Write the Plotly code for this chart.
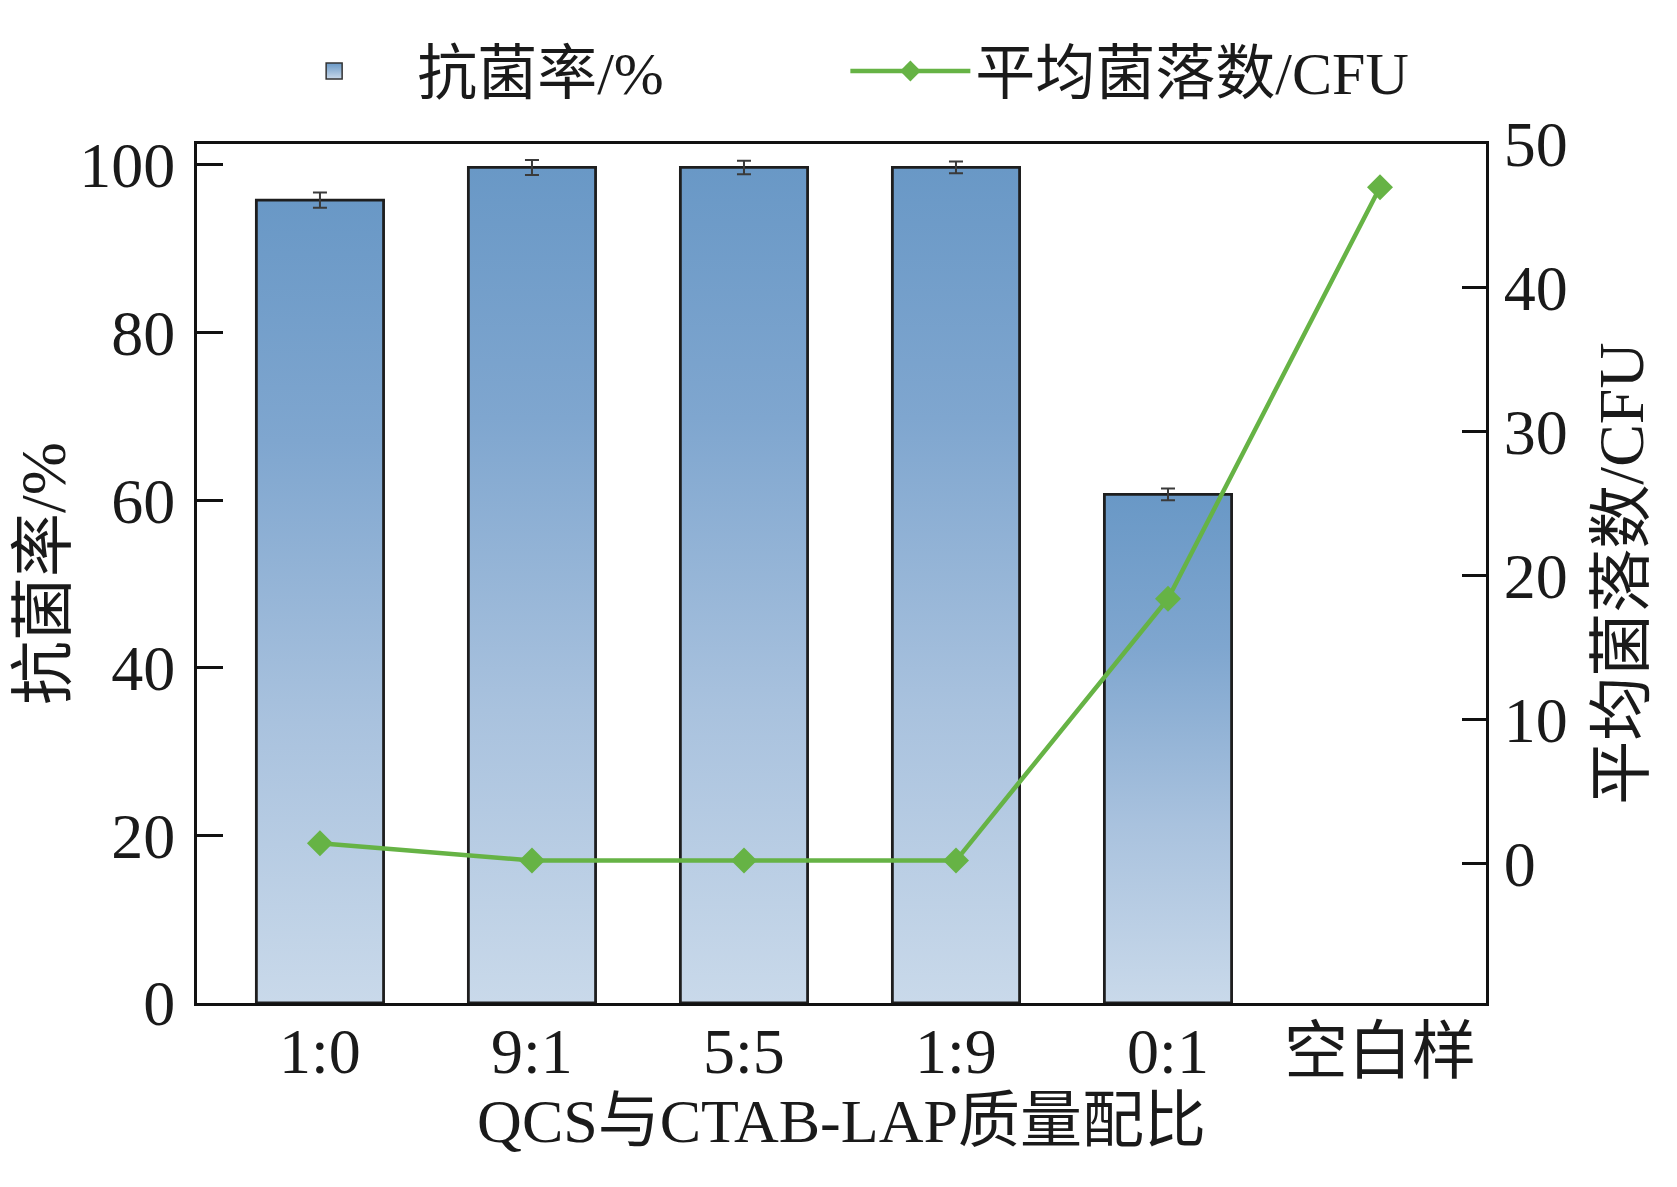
import plotly.graph_objects as go

categories = ["1:0", "9:1", "5:5", "1:9", "0:1", "空白样"]
rate = [95.8, 99.7, 99.7, 99.7, 60.7, None]          # 抗菌率/%
rate_err = [0.9, 0.9, 0.8, 0.7, 0.7, None]
cfu = [1.4, 0.2, 0.2, 0.2, 18.4, 47.0]              # 平均菌落数/CFU

left_ticks = [0, 20, 40, 60, 80, 100]
right_ticks = [0, 10, 20, 30, 40, 50]

FONT = "Liberation Serif, 'Noto Sans CJK SC', serif"
BAR_W = 0.6
TOP_C = "#6998c6"
BOT_C = "#c9d9ea"
grad = [[0.0, BOT_C], [0.35, "#a9c2de"], [0.7, "#7fa6cf"], [1.0, TOP_C]]
GREEN = "#66b345"

pos = list(range(len(categories)))
fig = go.Figure()

for p, v in zip(pos, rate):
    if v is None:
        continue
    fig.add_trace(go.Scatter(
        x=[p - BAR_W / 2, p + BAR_W / 2, p + BAR_W / 2, p - BAR_W / 2, p - BAR_W / 2],
        y=[0, 0, v, v, 0],
        mode="lines", fill="toself",
        fillgradient=dict(type="vertical", colorscale=grad),
        line=dict(color="#1e1e1e", width=2.8),
        showlegend=False, hoverinfo="skip",
    ))

# error bars
fig.add_trace(go.Scatter(
    x=[p for p, v in zip(pos, rate) if v is not None],
    y=[v for v in rate if v is not None],
    mode="markers", marker=dict(size=1, color="rgba(0,0,0,0)"),
    error_y=dict(type="data", array=[e for e in rate_err if e is not None],
                 color="#3a3a3a", thickness=2, width=7),
    showlegend=False, hoverinfo="skip",
))

# legend entry for the bars
fig.add_trace(go.Scatter(
    x=[None], y=[None], mode="markers", name="抗菌率/%",
    marker=dict(symbol="square", size=16, color=TOP_C,
                gradient=dict(type="vertical", color=BOT_C),
                line=dict(color="#333", width=1.5)),
    legend="legend",
))

fig.add_trace(go.Scatter(
    x=pos, y=cfu, yaxis="y2", mode="lines+markers",
    line=dict(color=GREEN, width=4.5),
    marker=dict(symbol="diamond", size=20, color=GREEN),
    name="平均菌落数/CFU", legend="legend2",
))

fig.update_layout(
    width=1677, height=1187, autosize=False,
    margin=dict(l=189, r=199, t=136, b=192),
    paper_bgcolor="white", plot_bgcolor="white",
    font=dict(family=FONT, size=64, color="#1a1a1a"),
    showlegend=True,
    legend=dict(orientation="h", x=0.042, xanchor="left", y=1.085, yanchor="middle",
                font=dict(size=60), itemwidth=156, bgcolor="rgba(0,0,0,0)"),
    legend2=dict(orientation="h", x=0.503, xanchor="left", y=1.085, yanchor="middle",
                 font=dict(size=60), itemwidth=120, bgcolor="rgba(0,0,0,0)"),
    xaxis=dict(range=[-0.58, 5.5], tickvals=pos, ticktext=categories,
               showline=True, linewidth=3, linecolor="#111", mirror=True,
               ticks="", showgrid=False, zeroline=False,
               tickfont=dict(size=64), ticklabelstandoff=-10,
               title=dict(text="QCS与CTAB-LAP质量配比", font=dict(size=62), standoff=10)),
    yaxis=dict(range=[0, 102.5], tickvals=left_ticks,
               showline=True, linewidth=3, linecolor="#111", mirror=True,
               ticks="inside", ticklen=26, tickwidth=3, tickcolor="#111",
               showgrid=False, zeroline=False, tickfont=dict(size=64),
               ticklabelstandoff=6,
               title=dict(text="抗菌率/%", font=dict(size=64), standoff=4)),
    yaxis2=dict(range=[-9.7, 50], tickvals=right_ticks, overlaying="y", side="right",
                showline=True, linewidth=3, linecolor="#111",
                ticks="inside", ticklen=24, tickwidth=3, tickcolor="#111",
                showgrid=False, zeroline=False, tickfont=dict(size=64),
                ticklabelstandoff=2,
                title=dict(text="平均菌落数/CFU", font=dict(size=64), standoff=32)),
)

fig.write_html("out.html")
